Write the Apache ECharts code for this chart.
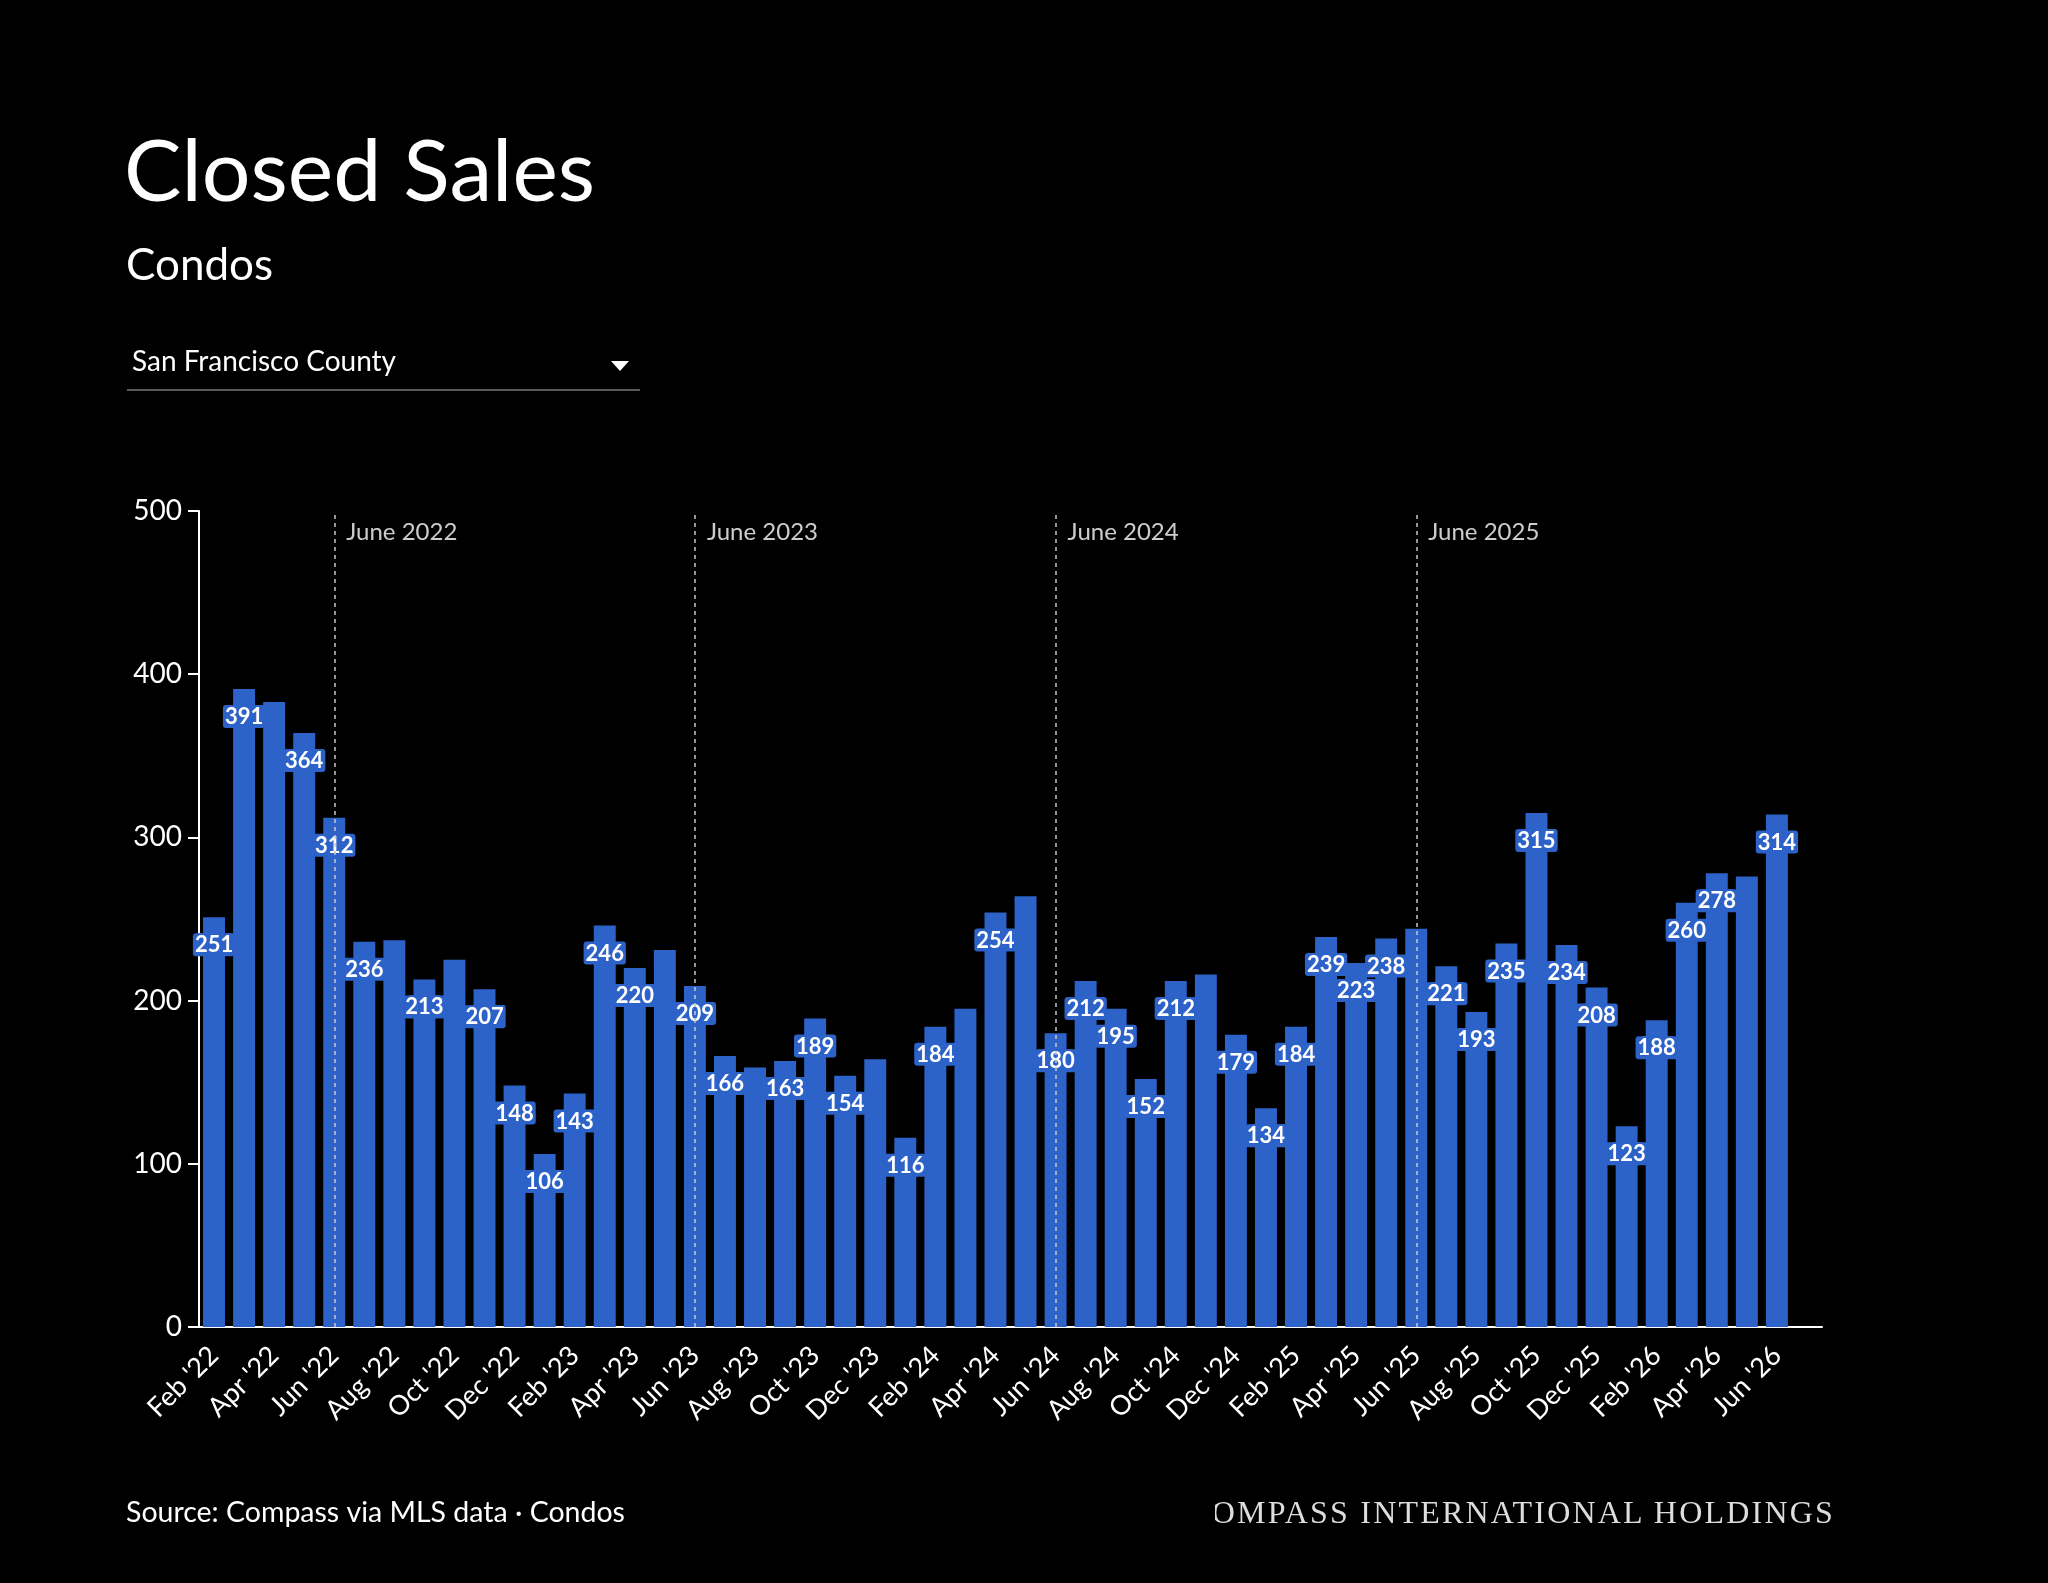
<!DOCTYPE html>
<html>
<head>
<meta charset="utf-8">
<title>Closed Sales - Condos</title>
<script src="https://cdn.jsdelivr.net/npm/echarts@6/dist/echarts.min.js"></script>
<style>
  html, body { margin: 0; padding: 0; background: #000; }
  #wrap { position: relative; width: 2048px; height: 1583px; }
  #chart { width: 2048px; height: 1583px; }
  /* brand line, clipped on the left like the original */
  #brand {
    position: absolute; left: 1215px; top: 1490px; width: 620px; height: 44px;
    overflow: hidden;
  }
  #brand span {
    position: absolute; right: 0; top: 0; white-space: nowrap;
    font-family: "Liberation Serif", serif; font-size: 32px; line-height: 44px;
    letter-spacing: 2.2px; color: #ddd;
  }
</style>
</head>
<body>
<div id="wrap">
  <div id="chart"></div>
  <div id="brand"><span>COMPASS INTERNATIONAL HOLDINGS</span></div>
</div>
<script>
// month categories (last one has no data yet)
var months = [
  "Feb '22", "Mar '22", "Apr '22", "May '22", "Jun '22", "Jul '22", "Aug '22", "Sep '22", "Oct '22", "Nov '22", "Dec '22",
  "Jan '23", "Feb '23", "Mar '23", "Apr '23", "May '23", "Jun '23", "Jul '23", "Aug '23", "Sep '23", "Oct '23", "Nov '23", "Dec '23",
  "Jan '24", "Feb '24", "Mar '24", "Apr '24", "May '24", "Jun '24", "Jul '24", "Aug '24", "Sep '24", "Oct '24", "Nov '24", "Dec '24",
  "Jan '25", "Feb '25", "Mar '25", "Apr '25", "May '25", "Jun '25", "Jul '25", "Aug '25", "Sep '25", "Oct '25", "Nov '25", "Dec '25",
  "Jan '26", "Feb '26", "Mar '26", "Apr '26", "May '26", "Jun '26", "Jul '26"
];
// closed sales per month
var sales = [
  251, 391, 383, 364, 312, 236, 237, 213, 225, 207, 148,
  106, 143, 246, 220, 231, 209, 166, 159, 163, 189, 154, 164,
  116, 184, 195, 254, 264, 180, 212, 195, 152, 212, 216, 179,
  134, 184, 239, 223, 238, 244, 221, 193, 235, 315, 234, 208,
  123, 188, 260, 278, 276, 314, null
];
// bars whose value label is not drawn
var unlabeled = ["Apr '22", "Aug '22", "Oct '22", "May '23", "Aug '23", "Dec '23", "Mar '24", "May '24", "Nov '24", "Jun '25", "May '26"];
// yearly markers
var markerMonths = ["Jun '22", "Jun '23", "Jun '24", "Jun '25"];
var markerTexts = ["June 2022", "June 2023", "June 2024", "June 2025"];
var yTicks = [0, 100, 200, 300, 400, 500];

var barColor = '#2d63c8';
var font = 'Lato';

var barData = [];
for (var i = 0; i < months.length; i++) {
    barData.push({
        value: sales[i],
        label: { show: unlabeled.indexOf(months[i]) < 0 && sales[i] != null }
    });
}
var markerData = [];
for (var j = 0; j < markerMonths.length; j++) {
    markerData.push([markerMonths[j], 487, markerTexts[j]]);
}

var myChart = echarts.init(document.getElementById('chart'));
var option = {
    backgroundColor: '#000',
    animation: false,
    grid: { left: 199, right: 226, top: 511, bottom: 256 },
    xAxis: {
        type: 'category',
        data: months,
        boundaryGap: true,
        axisLine: { lineStyle: { color: '#fff', width: 2 } },
        axisTick: { alignWithLabel: true, interval: 0, length: 11, lineStyle: { color: '#fff', width: 2 } },
        axisLabel: {
            interval: 1, rotate: 45, color: '#fff', fontFamily: font, fontSize: 27, margin: 24
        }
    },
    yAxis: {
        type: 'value',
        min: yTicks[0],
        max: yTicks[yTicks.length - 1],
        interval: 100,
        splitLine: { show: false },
        axisLine: { show: true, lineStyle: { color: '#fff', width: 2 } },
        axisTick: { show: true, length: 11, lineStyle: { color: '#fff', width: 2 } },
        axisLabel: { color: '#fff', fontFamily: font, fontSize: 28, margin: 17 }
    },
    series: [
        {
            type: 'bar',
            data: barData,
            barCategoryGap: '27%',
            itemStyle: { color: barColor },
            label: {
                position: 'insideTop',
                distance: 16,
                color: '#fff',
                fontFamily: font,
                fontWeight: 'bold',
                fontSize: 22,
                backgroundColor: barColor,
                padding: [1, 2, 0, 2],
                borderRadius: 3,
                textBorderColor: barColor,
                textBorderWidth: 4
            },
            markLine: {
                silent: true,
                symbol: ['none', 'none'],
                label: { show: false },
                lineStyle: { type: [4, 4], color: '#c8c8c8', width: 1.5 },
                data: markerMonths.map(function (m) { return { xAxis: m }; })
            },
            z: 2
        },
        {
            type: 'scatter',
            data: markerData,
            symbolSize: 0,
            silent: true,
            label: {
                show: true,
                position: 'right',
                distance: 12,
                color: '#fff',
                fontFamily: font,
                fontSize: 24,
                formatter: function (p) { return p.value[2]; }
            }
        }
    ],
    graphic: [
        { type: 'text', left: 124, top: 130, style: { text: 'Closed Sales', fill: '#fff', font: '86px Lato' } },
        { type: 'text', left: 126, top: 244, style: { text: 'Condos', fill: '#fff', font: '44px Lato' } },
        { type: 'text', left: 132, top: 348, style: { text: 'San Francisco County', fill: '#fff', font: '28px Lato' } },
        { type: 'polygon', shape: { points: [[611, 361], [629, 361], [620, 371]] }, style: { fill: '#fff' } },
        { type: 'line', shape: { x1: 127, y1: 390, x2: 640, y2: 390 }, style: { stroke: '#777', lineWidth: 1.5 } },
        { type: 'text', left: 126, top: 1498, style: { text: 'Source: Compass via MLS data \u00b7 Condos', fill: '#fff', font: '28.5px Lato' } }
    ]
};
myChart.setOption(option);
</script>
</body>
</html>
